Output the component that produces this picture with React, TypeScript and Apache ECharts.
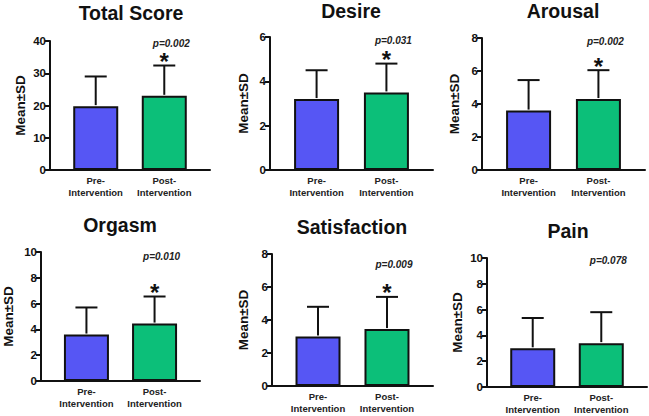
import React, { useEffect, useRef } from "react";
import * as echarts from "echarts";

// ---- data ----
const categories = ["Pre-\nIntervention", "Post-\nIntervention"];
const panelTitles = ["Total Score", "Desire", "Arousal", "Orgasm", "Satisfaction", "Pain"];
const preMeans = [19.8, 3.2, 3.6, 3.6, 3.0, 3.0];
const preSDs = [9.2, 1.3, 1.85, 2.1, 1.8, 2.35];
const postMeans = [23.0, 3.5, 4.3, 4.45, 3.45, 3.4];
const postSDs = [9.4, 1.3, 1.75, 2.1, 1.95, 2.4];
const pValueLabels = ["p=0.002", "p=0.031", "p=0.002", "p=0.010", "p=0.009", "p=0.078"];
const significant = [true, true, true, true, true, false];
const yMaxes = [40, 6, 8, 10, 8, 10];
const yIntervals = [10, 2, 2, 2, 2, 2];
const yAxisName = "Mean±SD";

// ---- layout ----
const grids = [
  { left: 50, top: 41, width: 160, height: 129 },
  { left: 270, top: 37, width: 163, height: 133 },
  { left: 482, top: 38, width: 163, height: 132 },
  { left: 41, top: 252, width: 159, height: 129 },
  { left: 272, top: 254, width: 161, height: 132 },
  { left: 487, top: 258, width: 160, height: 129 },
];
const nameOffsets = [30, 26.5, 27.5, 33, 28.5, 30];
const titlePos = [
  [131, 13],
  [351, 11],
  [563, 11],
  [120, 225],
  [352, 227],
  [568, 231],
];
const pLabelLevel = [38.8, 5.8, 7.75, 9.6, 7.3, 9.7];

const FONT = "'Liberation Sans', Arial, sans-serif";
const BLUE = "#5656f4";
const GREEN = "#0cbf79";
const INK = "#111111";

export default function App() {
  const ref = useRef<HTMLDivElement>(null);

  useEffect(() => {
    if (!ref.current) return;
    const chart = echarts.init(ref.current, undefined, { renderer: "svg" });

    const xAxes: any[] = [];
    const yAxes: any[] = [];
    const series: any[] = [];
    const graphic: any[] = [];

    panelTitles.forEach((title, i) => {
      const g = grids[i];
      xAxes.push({
        gridIndex: i,
        type: "value",
        min: -0.667,
        max: 1.667,
        axisLine: { show: true, onZero: false, lineStyle: { color: INK, width: 2 } },
        axisTick: { show: false },
        splitLine: { show: false },
        axisLabel: {
          customValues: [0, 1],
          formatter: (v: number) => categories[Math.round(v)] ?? "",
          fontFamily: FONT,
          fontWeight: "bold",
          fontSize: 9.5,
          lineHeight: 12,
          color: "#222",
          margin: 4,
        },
      });
      yAxes.push({
        gridIndex: i,
        type: "value",
        min: 0,
        max: yMaxes[i],
        interval: yIntervals[i],
        axisLine: { show: true, onZero: false, lineStyle: { color: INK, width: 2 } },
        axisTick: { show: true, length: 5, lineStyle: { color: INK, width: 2 } },
        splitLine: { show: false },
        axisLabel: {
          fontFamily: FONT,
          fontWeight: "bold",
          fontSize: 11.5,
          color: INK,
          margin: 4,
        },
      });

      series.push({
        type: "bar",
        xAxisIndex: i,
        yAxisIndex: i,
        barWidth: 45,
        itemStyle: { borderColor: INK, borderWidth: 2 },
        data: [
          { value: [0, preMeans[i]], itemStyle: { color: BLUE } },
          { value: [1, postMeans[i]], itemStyle: { color: GREEN } },
        ],
        z: 2,
      });

      series.push({
        type: "custom",
        xAxisIndex: i,
        yAxisIndex: i,
        z: 3,
        data: [
          [0, preMeans[i], preSDs[i]],
          [1, postMeans[i], postSDs[i]],
        ],
        renderItem: (params: any, api: any) => {
          const x = api.value(0);
          const m = api.value(1);
          const sd = api.value(2);
          const base = api.coord([x, m]);
          const top = api.coord([x, m + sd]);
          const st = { stroke: INK, lineWidth: 2 };
          return {
            type: "group",
            children: [
              { type: "line", shape: { x1: base[0], y1: base[1] - 1, x2: top[0], y2: top[1] }, style: st },
              { type: "line", shape: { x1: top[0] - 11, y1: top[1], x2: top[0] + 11, y2: top[1] }, style: st },
            ],
          };
        },
      });

      series.push({
        type: "custom",
        xAxisIndex: i,
        yAxisIndex: i,
        z: 4,
        data: [[1, postMeans[i] + postSDs[i], pLabelLevel[i], significant[i] ? 1 : 0]],
        renderItem: (params: any, api: any) => {
          const x = api.value(0);
          const cap = api.coord([x, api.value(1)]);
          const pPos = api.coord([x, api.value(2)]);
          const sig = api.value(3) === 1;
          const children: any[] = [
            {
              type: "text",
              style: {
                text: pValueLabels[i],
                x: pPos[0] + 7,
                y: pPos[1] - 1,
                align: "center",
                verticalAlign: "middle",
                textAlign: "center",
                textVerticalAlign: "middle",
                font: `italic bold 10px ${FONT}`,
                fill: "#222",
              },
            },
          ];
          if (sig) {
            children.push({
              type: "text",
              style: {
                text: "*",
                x: cap[0],
                y: cap[1] - 4,
                align: "center",
                verticalAlign: "middle",
                textAlign: "center",
                textVerticalAlign: "middle",
                font: `bold 24px ${FONT}`,
                fill: INK,
              },
            });
          }
          return { type: "group", children };
        },
      });

      graphic.push({
        type: "text",
        x: titlePos[i][0],
        y: titlePos[i][1],
        style: {
          text: title,
          align: "center",
          verticalAlign: "middle",
          textAlign: "center",
          textVerticalAlign: "middle",
          font: `bold 19.5px ${FONT}`,
          fill: INK,
        },
      });

      graphic.push({
        type: "text",
        x: g.left - nameOffsets[i],
        y: g.top + g.height / 2,
        rotation: Math.PI / 2,
        style: {
          text: yAxisName,
          align: "center",
          verticalAlign: "middle",
          textAlign: "center",
          textVerticalAlign: "middle",
          font: `bold 13.5px ${FONT}`,
          fill: INK,
        },
      });
    });

    chart.setOption({
      animation: false,
      backgroundColor: "#ffffff",
      grid: grids.map((g) => ({ ...g })),
      xAxis: xAxes,
      yAxis: yAxes,
      series,
      graphic,
    });

    return () => chart.dispose();
  }, []);

  return (
    <div
      ref={ref}
      style={{ position: "fixed", left: 0, top: 0, width: 649, height: 416 }}
    />
  );
}
